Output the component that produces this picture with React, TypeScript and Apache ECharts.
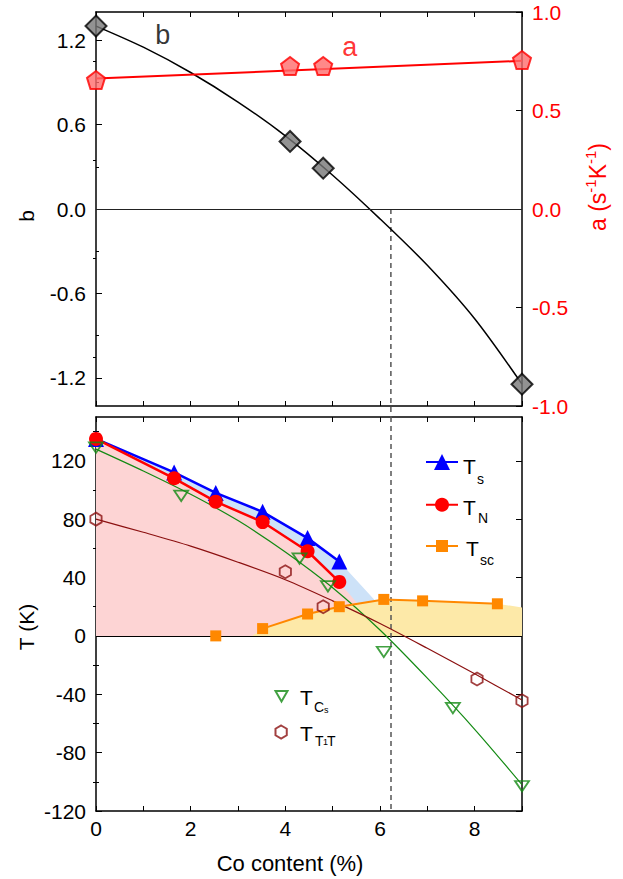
import React, { useEffect, useRef } from 'react';
import * as echarts from 'echarts';

const FONT = '"Liberation Sans", Arial, Helvetica, sans-serif';

// ---------- top panel data ----------
const coMeasured = [0, 4.1, 4.8, 9];
const bValues = [1.3, 0.48, 0.29, -1.245];
const aValues = [0.655, 0.726, 0.726, 0.756];
const bCurveCo = [0, 1, 2, 3, 4, 5, 6, 7, 8, 9];
const bCurve = [1.3, 1.15, 0.97, 0.76, 0.52, 0.24, -0.07, -0.4, -0.78, -1.245];
const aLineCo = [0, 9];
const aLine = [0.662, 0.752];
const bTickMajor = [-1.2, -0.6, 0, 0.6, 1.2];
const bTickMinor = [-0.9, -0.3, 0.3, 0.9];
const aTickMajor = [-1, -0.5, 0, 0.5, 1];
const aTickMinor = [-0.75, -0.25, 0.25, 0.75];
const coLabels = [0, 2, 4, 6, 8];
const criticalCo = 6.23;
const criticalTop = [0, -1.478];

// ---------- bottom panel data ----------
const coTs = [0, 1.65, 2.53, 3.52, 4.47, 5.14];
const Ts = [135, 112, 98, 85, 67, 51];
const TN = [135, 108, 92, 78, 58, 37];
const TsFillEnd = [5.9, 24];
const TNFillEnd = [5.5, 23];
const coTsc = [2.53, 3.52, 4.47, 5.14, 6.08, 6.9, 8.48];
const Tsc = [0, 5, 15, 20, 25, 24, 22];
const TscFillStart = [3.3, 0];
const TscFillEnd = [9, 19.5];
const coTCs = [0, 1.8, 4.3, 4.9, 6.08, 7.54, 9];
const TCs = [129, 96, 53, 34, -11, -49.5, -103];
const TCsCurveCo = [0, 1, 2, 3, 4, 5, 6, 7, 8, 9];
const TCsCurve = [128, 113, 97, 79, 57.5, 33, 4, -29, -64, -102];
const coTT = [0, 4.0, 4.8, 8.05, 9];
const TT = [80, 44, 20, -29.5, -44.5];
const TTCurveCo = [0, 1, 2, 3, 4, 5, 6, 7, 8, 9];
const TTCurve = [80, 71, 61.5, 50.5, 38.5, 24, 8.5, -8.5, -26, -44];
const tTickMajor = [-120, -80, -40, 0, 40, 80, 120];
const tTickMinor = [-100, -60, -20, 20, 60, 100, 140];

const zip = (xs: number[], ys: number[]) => xs.map((x, i) => [x, ys[i]]);

const PENTAGON = 'path://M10,0 L19.51,6.91 L15.88,18.09 L4.12,18.09 L0.49,6.91 Z';
const HEXAGON = 'path://M8.66,0 L17.32,5 L17.32,15 L8.66,20 L0,15 L0,5 Z';
const DOWN_TRI = 'path://M0,0 L20,0 L10,17.32 Z';

const BLUE = '#0000ff';
const RED = '#ff0000';
const ORANGE = '#ff8800';
const GREEN = '#138a13';
const DARKRED = '#8b1010';

const GL = 96, GW = 426;

const axisLineStyle = { show: true, onZero: false, lineStyle: { color: '#000', width: 1.5 } };

function xAx(gridIndex: number, position: string, labels: boolean) {
  return {
    type: 'value', gridIndex, position, min: 0, max: 9, interval: 1,
    axisLine: axisLineStyle,
    axisTick: { show: true, inside: true, length: 5, lineStyle: { color: '#000', width: 1 } },
    axisLabel: labels
      ? { show: true, customValues: coLabels, fontSize: 21, color: '#000', fontFamily: FONT, margin: 7 }
      : { show: false },
    splitLine: { show: false },
  };
}

function yAx(gridIndex: number, position: string, min: number, max: number, ticks: number[], len: number,
  line: boolean, labels: number[] | null, labelColor = '#000', fmt?: (v: number) => string) {
  return {
    type: 'value', gridIndex, position, min, max,
    axisLine: line ? axisLineStyle : { show: false },
    axisTick: { show: true, inside: true, length: len, customValues: ticks, lineStyle: { color: '#000', width: 1 } },
    axisLabel: labels
      ? { show: true, customValues: labels, fontSize: 21, color: labelColor, fontFamily: FONT, margin: 10, formatter: fmt }
      : { show: false },
    splitLine: { show: false },
  };
}

export default function App() {
  const ref = useRef<HTMLDivElement>(null);
  useEffect(() => {
    if (!ref.current) return;
    const chart = echarts.init(ref.current, undefined, { renderer: 'svg' });
    const f1 = (v: number) => v.toFixed(1);
    const tscLineData: any[] = [[coTsc[0], Tsc[0]], [coTsc[0], '-'], ...zip(coTsc.slice(1), Tsc.slice(1))];
    const txt = (text: string, x: number, y: number, size: number, color = '#000') => ({
      type: 'text', x, y,
      style: { text, x: 0, y: 0, fontSize: size, fontFamily: FONT, fill: color, align: 'left', textAlign: 'left', verticalAlign: 'middle', textVerticalAlign: 'middle' },
    });
    const rtxt = (text: string, x: number, y: number, size: number, rot: number) => ({
      type: 'text', x, y, rotation: rot,
      style: { text, fontSize: size, fontFamily: FONT, fill: '#000', align: 'center', textAlign: 'center', verticalAlign: 'middle', textVerticalAlign: 'middle' },
    });
    const option: any = {
      animation: false,
      backgroundColor: '#fff',
      grid: [
        { left: GL, top: 12, width: GW, height: 394, outerBoundsMode: 'none' },
        { left: GL, top: 417, width: GW, height: 394, outerBoundsMode: 'none' },
      ],
      xAxis: [xAx(0, 'bottom', false), xAx(0, 'top', false), xAx(1, 'bottom', true), xAx(1, 'top', false)],
      yAxis: [
        yAx(0, 'left', -1.4, 1.4, bTickMajor, 6, true, bTickMajor, '#000', f1),
        yAx(0, 'left', -1.4, 1.4, bTickMinor, 3, false, null),
        yAx(0, 'right', -1, 1, aTickMajor, 6, true, aTickMajor, RED, f1),
        yAx(0, 'right', -1, 1, aTickMinor, 3, false, null),
        yAx(1, 'left', -120, 150, tTickMajor, 6, true, tTickMajor, '#000'),
        yAx(1, 'left', -120, 150, tTickMinor, 3, false, null),
        yAx(1, 'right', -120, 150, tTickMajor, 6, true, null),
        yAx(1, 'right', -120, 150, tTickMinor, 3, false, null),
      ],
      legend: [
        { data: ['Ts'], left: 425, top: 452, itemWidth: 32, itemHeight: 20 },
        { data: ['TN'], left: 425, top: 496, itemWidth: 32, itemHeight: 17.5 },
        { data: ['Tsc'], left: 425, top: 538.5, itemWidth: 32, itemHeight: 15 },
        { data: ['TCs'], left: 274.5, top: 690, itemWidth: 12, itemHeight: 12 },
        { data: ['TT1T'], left: 274.5, top: 724.5, itemWidth: 13, itemHeight: 13 },
      ].map((l) => ({ ...l, padding: 0, selectedMode: false, formatter: () => '', orient: 'vertical' })),
      series: [
        {
          type: 'line', name: 'bfit', xAxisIndex: 0, yAxisIndex: 0, data: zip(bCurveCo, bCurve), smooth: 0.3,
          symbol: 'none', lineStyle: { color: '#000', width: 1.5 }, z: 3, silent: true,
          markLine: {
            silent: true, symbol: ['none', 'none'], label: { show: false },
            lineStyle: { color: '#222', width: 1, type: 'solid' },
            data: [{ yAxis: 0 }],
          },
        },
        {
          type: 'line', name: 'critical', xAxisIndex: 0, yAxisIndex: 0,
          data: criticalTop.map((v) => [criticalCo, v]), clip: false, symbol: 'none', silent: true,
          lineStyle: { color: '#555', width: 1.5, type: [5, 4] }, z: 2,
        },
        {
          type: 'line', name: 'afit', xAxisIndex: 0, yAxisIndex: 2, data: zip(aLineCo, aLine),
          symbol: 'none', lineStyle: { color: RED, width: 2 }, z: 3, silent: true,
        },
        {
          type: 'scatter', name: 'b', xAxisIndex: 0, yAxisIndex: 0, data: zip(coMeasured, bValues),
          symbol: 'diamond', symbolSize: 21, itemStyle: { color: '#777777', borderColor: '#000', borderWidth: 2 }, z: 5,
        },
        {
          type: 'scatter', name: 'a', xAxisIndex: 0, yAxisIndex: 2, data: zip(coMeasured, aValues),
          symbol: PENTAGON, symbolSize: 18, itemStyle: { color: '#ff6b6b', borderColor: RED, borderWidth: 2 }, z: 5,
        },
        {
          type: 'scatter', name: 'blabel', xAxisIndex: 0, yAxisIndex: 0, data: [[1.41, 1.24]], symbolSize: 1,
          itemStyle: { color: 'transparent' }, silent: true,
          label: { show: true, position: 'inside', formatter: 'b', fontSize: 27, color: '#000', fontFamily: FONT },
        },
        {
          type: 'scatter', name: 'alabel', xAxisIndex: 0, yAxisIndex: 2, data: [[5.36, 0.82]], symbolSize: 1,
          itemStyle: { color: 'transparent' }, silent: true,
          label: { show: true, position: 'inside', formatter: 'a', fontSize: 27, color: RED, fontFamily: FONT },
        },
        // fills
        {
          type: 'line', name: 'fillTs', xAxisIndex: 2, yAxisIndex: 4, data: [...zip(coTs, Ts), TsFillEnd],
          symbol: 'none', lineStyle: { width: 0 }, areaStyle: { color: '#cde2f8', opacity: 1 }, z: 1, silent: true,
        },
        {
          type: 'line', name: 'fillTN', xAxisIndex: 2, yAxisIndex: 4, data: [...zip(coTs, TN), TNFillEnd],
          symbol: 'none', lineStyle: { width: 0 }, areaStyle: { color: '#fdd4d4', opacity: 1 }, z: 2, silent: true,
        },
        {
          type: 'line', name: 'fillTsc', xAxisIndex: 2, yAxisIndex: 4,
          data: [TscFillStart, ...zip(coTsc.slice(1), Tsc.slice(1)), TscFillEnd],
          symbol: 'none', lineStyle: { width: 0 }, areaStyle: { color: '#fde9a8', opacity: 1 }, z: 3, silent: true,
        },
        {
          type: 'line', name: 'TCsCurve', xAxisIndex: 2, yAxisIndex: 4, data: zip(TCsCurveCo, TCsCurve), smooth: 0.3,
          symbol: 'none', lineStyle: { color: GREEN, width: 1.2 }, z: 6, silent: true,
        },
        {
          type: 'line', name: 'TTCurve', xAxisIndex: 2, yAxisIndex: 4, data: zip(TTCurveCo, TTCurve), smooth: 0.3,
          symbol: 'none', lineStyle: { color: DARKRED, width: 1.2 }, z: 6, silent: true,
          markLine: {
            silent: true, symbol: ['none', 'none'], label: { show: false },
            lineStyle: { color: '#000', width: 1.2, type: 'solid' },
            data: [
              [{ coord: [0, 0] }, { coord: [8.9, 0] }],
              [{ coord: [criticalCo, 150], lineStyle: { color: '#555', width: 1.5, type: [5, 4] } }, { coord: [criticalCo, -120] }],
            ],
          },
        },
        {
          type: 'line', name: 'Tsc', xAxisIndex: 2, yAxisIndex: 4, data: tscLineData, connectNulls: false,
          symbol: 'rect', symbolSize: 11, itemStyle: { color: ORANGE }, lineStyle: { color: ORANGE, width: 2 }, z: 9,
        },
        {
          type: 'line', name: 'Ts', xAxisIndex: 2, yAxisIndex: 4, data: zip(coTs, Ts),
          symbol: 'triangle', symbolSize: 16, itemStyle: { color: BLUE }, lineStyle: { color: BLUE, width: 2.5 }, z: 10,
        },
        {
          type: 'line', name: 'TN', xAxisIndex: 2, yAxisIndex: 4, data: zip(coTs, TN),
          symbol: 'circle', symbolSize: 14, itemStyle: { color: RED }, lineStyle: { color: RED, width: 2.5 }, z: 11,
        },
        {
          type: 'scatter', name: 'TCs', xAxisIndex: 2, yAxisIndex: 4, data: zip(coTCs, TCs),
          symbol: DOWN_TRI, symbolSize: [14, 12], symbolKeepAspect: true,
          itemStyle: { color: 'rgba(255,255,255,0)', borderColor: GREEN, borderWidth: 1.8 }, z: 12,
        },
        {
          type: 'scatter', name: 'TT1T', xAxisIndex: 2, yAxisIndex: 4, data: zip(coTT, TT),
          symbol: HEXAGON, symbolSize: [13, 13], symbolKeepAspect: true,
          itemStyle: { color: 'rgba(255,255,255,0)', borderColor: DARKRED, borderWidth: 1.8 }, z: 12,
        },
      ],
      graphic: {
        elements: [
          rtxt('b', 26, 216, 21, Math.PI / 2),
          rtxt('T (K)', 26, 627, 21, Math.PI / 2),
          rtxt('Co content (%)', 290, 863, 22, 0),
          {
            type: 'text', x: 596, y: 187, rotation: Math.PI / 2,
            style: {
              text: '{n|a (s}{p|-1}{n|K}{p|-1}{n|)}', align: 'center', textAlign: 'center', verticalAlign: 'middle', textVerticalAlign: 'middle',
              rich: {
                n: { fontSize: 23, fontFamily: FONT, fill: RED, color: RED, lineHeight: 26, verticalAlign: 'bottom' },
                p: { fontSize: 15, fontFamily: FONT, fill: RED, color: RED, lineHeight: 15, verticalAlign: 'top' },
              },
            },
          },
          txt('T', 463, 466, 21), txt('s', 477, 479, 14),
          txt('T', 463, 507, 21), txt('N', 478, 518, 14),
          txt('T', 466, 548, 21), txt('sc', 480, 560, 14),
          txt('T', 300, 697, 21), txt('C', 314, 707, 14), txt('s', 324, 710, 9),
          txt('T', 300, 733, 21), txt('T', 315, 741, 14), txt('1', 323, 742, 9), txt('T', 327, 741, 14),
        ],
      },
    };
    chart.setOption(option);
    return () => chart.dispose();
  }, []);
  return <div ref={ref} style={{ position: 'fixed', left: 0, top: 0, width: 623, height: 879, background: '#fff' }} />;
}
